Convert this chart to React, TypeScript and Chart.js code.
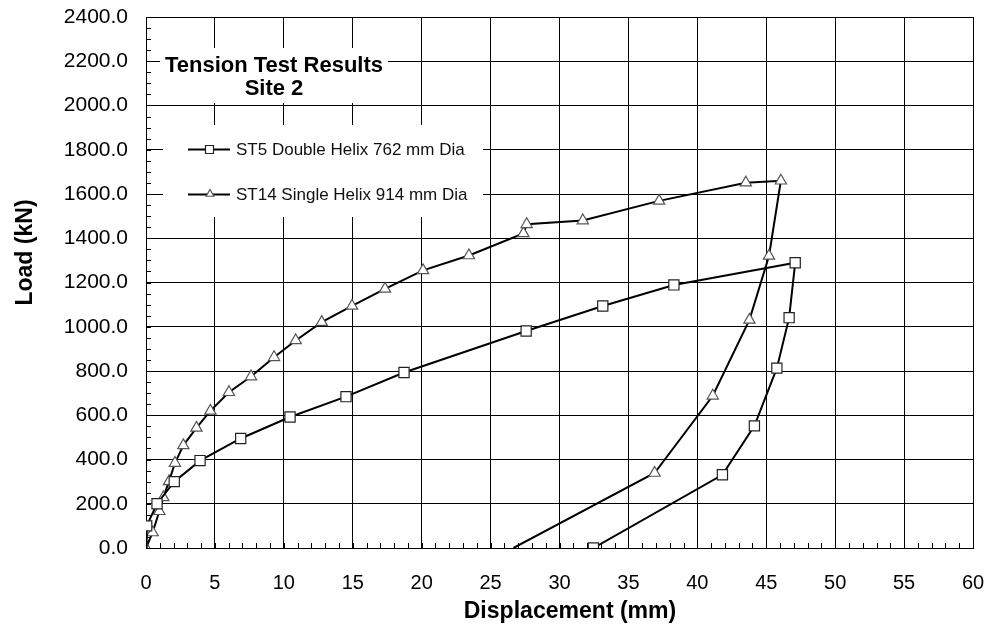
import React, { useEffect, useRef } from "react";
import { Chart, registerables } from "chart.js";

Chart.register(...registerables);

// ---- data ----
const st5X = [0, 0.05, 0.8, 2.05, 3.92, 6.87, 10.45, 14.51, 18.72, 27.58, 33.14, 38.3, 47.1, 46.66, 45.77, 44.14, 41.82, 32.46];
const st5Y = [0, 100, 200, 300, 395, 495, 592, 684, 793, 981, 1094, 1189, 1289, 1041, 813, 552, 331, 0];

const st14X = [0, 0.48, 0.97, 1.26, 1.67, 2.1, 2.71, 3.66, 4.67, 6.02, 7.62, 9.29, 10.86, 12.75, 14.95, 17.34, 20.1, 23.43, 27.38, 27.62, 31.69, 37.23, 43.52, 46.06, 45.2, 43.78, 41.12, 36.9, 26.66];
const st14Y = [0, 70, 166, 229, 301, 384, 464, 543, 620, 704, 775, 862, 938, 1021, 1094, 1171, 1255, 1322, 1422, 1463, 1480, 1569, 1651, 1660, 1320, 1031, 688, 339, 0];

const seriesLabels = ["ST5 Double Helix 762 mm Dia", "ST14 Single Helix 914 mm Dia"];
const titleLines = ["Tension Test Results", "Site 2"];
const xAxisTitle = "Displacement (mm)";
const yAxisTitle = "Load (kN)";
const xMin = 0, xMax = 60, xStep = 5, xMinorStep = 1;
const yMin = 0, yMax = 2400, yStep = 200, yMinorStep = 50;

const FONT = "'Liberation Sans', Arial, Helvetica, sans-serif";

function drawSquare(ctx: CanvasRenderingContext2D, x: number, y: number, s: number) {
  ctx.beginPath();
  ctx.rect(x - s / 2, y - s / 2, s, s);
  ctx.fill();
  ctx.stroke();
}
function drawTriangle(ctx: CanvasRenderingContext2D, x: number, y: number, r: number) {
  ctx.beginPath();
  ctx.moveTo(x, y - r);
  ctx.lineTo(x + Math.sin((2 * Math.PI) / 3) * r, y + r / 2);
  ctx.lineTo(x - Math.sin((2 * Math.PI) / 3) * r, y + r / 2);
  ctx.closePath();
  ctx.fill();
  ctx.stroke();
}

const overlayPlugin = {
  id: "overlay",
  beforeDatasetsDraw(chart: any) {
    const { ctx, chartArea } = chart;
    const xs = chart.scales.x;
    const ys = chart.scales.y;
    const L = chartArea.left;
    const T = chartArea.top;
    ctx.save();
    // minor ticks
    ctx.strokeStyle = "#000";
    ctx.lineWidth = 1;
    ctx.beginPath();
    for (let v = yMin; v <= yMax; v += yMinorStep) {
      const py = Math.round(ys.getPixelForValue(v)) + 0.5;
      ctx.moveTo(L, py);
      ctx.lineTo(L + 5, py);
    }
    for (let v = xMin; v <= xMax; v += xMinorStep) {
      const px = Math.round(xs.getPixelForValue(v)) + 0.5;
      ctx.moveTo(px, chartArea.bottom);
      ctx.lineTo(px, chartArea.bottom - 5);
    }
    ctx.stroke();

    // title box
    ctx.fillStyle = "#fff";
    ctx.fillRect(L + 14, T + 31, 228, 55);
    // legend box
    ctx.fillRect(L + 17, T + 108, 320, 92);

    // title text
    ctx.fillStyle = "#000";
    ctx.font = `bold 22px ${FONT}`;
    ctx.textAlign = "center";
    ctx.textBaseline = "alphabetic";
    ctx.fillText(titleLines[0], L + 128, T + 55);
    ctx.fillText(titleLines[1], L + 128, T + 78);

    // legend
    const rows = [T + 132.5, T + 177.5];
    ctx.font = `17px ${FONT}`;
    ctx.textAlign = "left";
    ctx.textBaseline = "middle";
    rows.forEach((ry, i) => {
      ctx.strokeStyle = "#000";
      ctx.lineWidth = 2;
      ctx.beginPath();
      ctx.moveTo(L + 42, ry);
      ctx.lineTo(L + 84, ry);
      ctx.stroke();
      ctx.fillStyle = "#fff";
      ctx.lineWidth = 1.2;
      if (i === 0) {
        ctx.strokeStyle = "#222";
        drawSquare(ctx, L + 63.5, ry, 8);
      } else {
        ctx.strokeStyle = "#555";
        drawTriangle(ctx, L + 64, ry - 0.5, 4.5);
      }
      ctx.fillStyle = "#111";
      ctx.fillText(seriesLabels[i], L + 90, ry + 0.5);
    });
    ctx.restore();
  },
  afterDraw(chart: any) {
    const { ctx } = chart;
    const k = 0.96;
    ctx.save();
    ctx.fillStyle = "#000";
    ctx.font = `bold 24px ${FONT}`;
    ctx.textAlign = "center";
    ctx.textBaseline = "alphabetic";
    // x axis title
    ctx.save();
    ctx.translate(570, 618);
    ctx.scale(k, 1);
    ctx.fillText(xAxisTitle, 0, 0);
    ctx.restore();
    // y axis title
    ctx.save();
    ctx.translate(31.5, 252.5);
    ctx.rotate(-Math.PI / 2);
    ctx.scale(k, 1);
    ctx.fillText(yAxisTitle, 0, 0);
    ctx.restore();
    ctx.restore();
  },
};

export default function App() {
  const ref = useRef<HTMLCanvasElement | null>(null);
  useEffect(() => {
    if (!ref.current) return;
    const st5Data = st5X.map((x, i) => ({ x, y: st5Y[i] }));
    const st14Data = st14X.map((x, i) => ({ x, y: st14Y[i] }));
    const chart = new Chart(ref.current, {
      type: "line",
      data: {
        datasets: [
          {
            label: seriesLabels[0],
            data: st5Data,
            borderColor: "#000",
            borderWidth: 2,
            pointStyle: "rect",
            pointRadius: (c: any) => (c.dataIndex === 0 ? 0 : 7.2),
            pointBackgroundColor: "#fff",
            pointBorderColor: "#222",
            pointBorderWidth: 1.2,
            tension: 0,
          },
          {
            label: seriesLabels[1],
            data: st14Data,
            borderColor: "#000",
            borderWidth: 2,
            pointStyle: "triangle",
            pointRadius: (c: any) => (c.dataIndex === st14X.length - 1 ? 0 : 6.5),
            pointBackgroundColor: "#fff",
            pointBorderColor: "#555",
            pointBorderWidth: 1.2,
            tension: 0,
          },
        ],
      },
      options: {
        responsive: false,
        animation: false,
        devicePixelRatio: 1,
        layout: { padding: { left: 0, top: 17, right: 14, bottom: 0 } },
        plugins: { legend: { display: false }, tooltip: { enabled: false } },
        scales: {
          x: {
            type: "linear",
            min: xMin,
            max: xMax,
            ticks: { stepSize: xStep, padding: 23, color: "#000", font: { size: 20, family: FONT } },
            grid: { color: "#000", lineWidth: 1, drawTicks: false },
            border: { color: "#000", width: 1 },
            title: { display: false, text: xAxisTitle },
            afterFit(s: any) {
              s.height = 76;
              s.paddingLeft = 0;
              s.paddingRight = 0;
            },
          },
          y: {
            type: "linear",
            min: yMin,
            max: yMax,
            ticks: {
              stepSize: yStep,
              padding: 18,
              color: "#000",
              font: { size: 21, family: FONT },
              callback: (v: any) => Number(v).toFixed(1),
            },
            grid: { color: "#000", lineWidth: 1, drawTicks: false },
            border: { color: "#000", width: 1 },
            title: { display: false, text: yAxisTitle },
            afterFit(s: any) {
              s.width = 146;
              s.paddingTop = 0;
              s.paddingBottom = 0;
            },
          },
        },
      } as any,
      plugins: [overlayPlugin],
    });
    return () => chart.destroy();
  }, []);
  return (
    <div style={{ position: "fixed", left: 0, top: 0, width: 987, height: 624, background: "#fff" }}>
      <canvas ref={ref} width={987} height={624} />
    </div>
  );
}
